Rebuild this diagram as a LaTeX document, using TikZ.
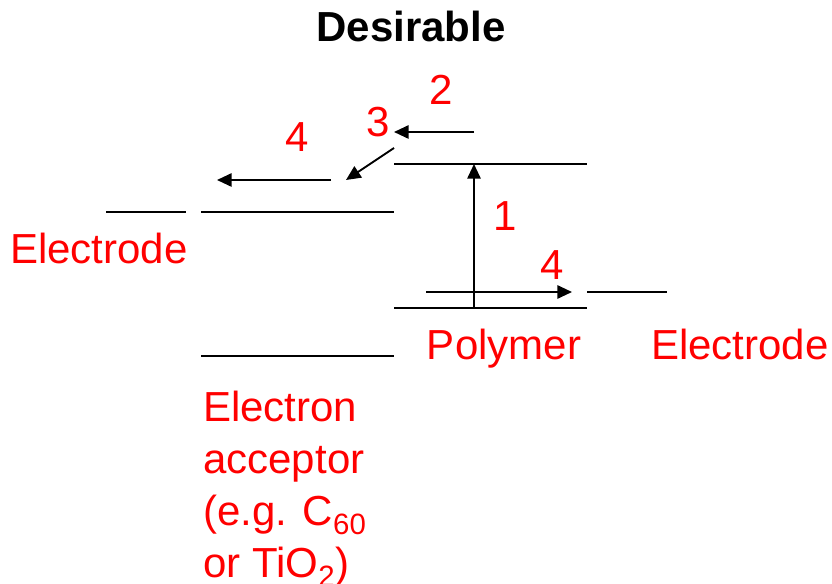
\documentclass[tikz,border=0pt]{standalone}
\usepackage{fontspec}
\setmainfont{Liberation Sans}
\usetikzlibrary{arrows.meta}
\begin{document}
\begin{tikzpicture}[x=0.75pt,y=-0.75pt,
 every node/.style={inner sep=0pt,font=\fontsize{31.5}{39}\selectfont},
 lab/.style={text=red,anchor=base},
 level/.style={line width=1.6pt},
 hop/.style={line width=1.4pt,-{Triangle[length=11pt,width=10pt]}}]
 \useasboundingbox (0,0) rectangle (832,584);
 \node[anchor=base,font=\fontsize{31.5}{39}\selectfont\bfseries] (title) at (411,42) {Desirable};
 \draw[level] (106,212) -- (186,212);
 \draw[level] (201,212) -- (394,212);
 \draw[level] (201,356) -- (394,356);
 \draw[level] (394,164) -- (587,164);
 \draw[level] (394,308) -- (587,308);
 \draw[level] (587,292) -- (667,292);
 \coordinate (h1) at (474,308); \coordinate (l1) at (474,164);
 \coordinate (a2) at (474,132); \coordinate (b2) at (394,132);
 \coordinate (a3) at (394,148); \coordinate (b3) at (346,180);
 \coordinate (a4) at (331,180); \coordinate (b4) at (217,180);
 \coordinate (a5) at (426,292); \coordinate (b5) at (572,292);
 \draw[hop] (h1) -- (l1);
 \draw[hop] (a2) -- (b2);
 \draw[hop] (a3) -- (b3);
 \draw[hop] (a4) -- (b4);
 \draw[hop] (a5) -- (b5);
 \node[lab] (n1) at (505,231) {1};
 \node[lab] (n2) at (441,105) {2};
 \node[lab] (n3) at (378,137) {3};
 \node[lab] (n4) at (297,152) {4};
 \node[lab] (n5) at (552,280) {4};
 \node[lab] (eleft) at (99,264) {Electrode};
 \node[lab] (poly) at (504,360) {Polymer};
 \node[lab] (eright) at (740,360) {Electrode};
 \node[text=red,anchor=north west,align=left] (acc) at (203,391)
  {Electron\\acceptor\\(e.g. C\textsubscript{60}\\or TiO\textsubscript{2})};
\end{tikzpicture}
\end{document}
